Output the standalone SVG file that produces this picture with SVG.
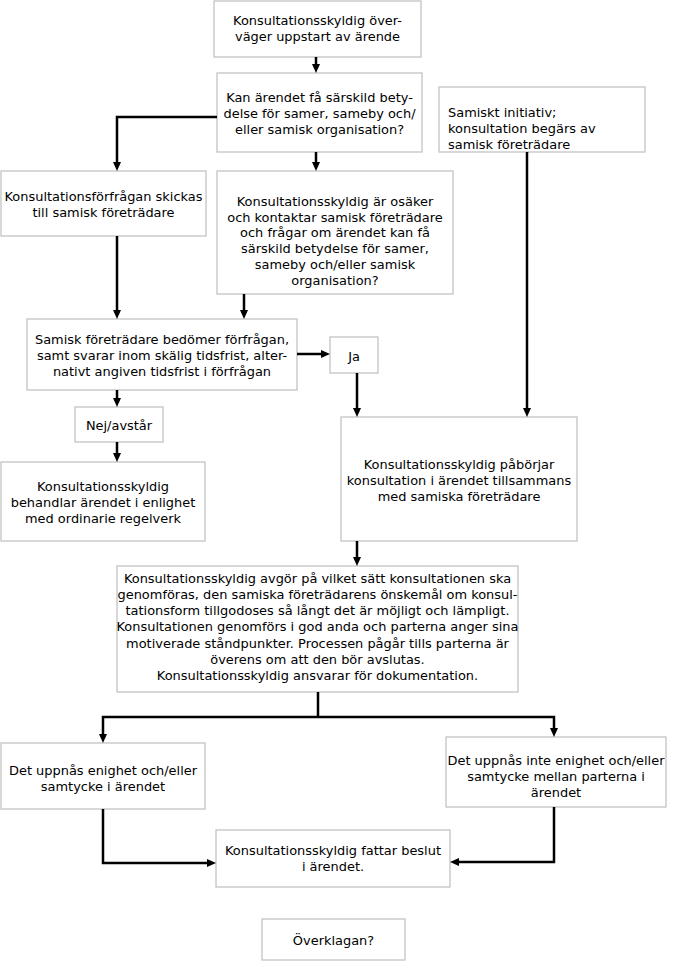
<svg xmlns="http://www.w3.org/2000/svg" width="680" height="961" viewBox="0 0 680 961">
<style>
  .box { fill: #ffffff; stroke: #c4c4c4; stroke-width: 1.3; }
  text { font-family: "DejaVu Sans", Verdana, sans-serif; font-size: 12.95px; fill: #000000; }
  .c { text-anchor: middle; }
  .conn { fill: none; stroke: #000000; stroke-width: 2.5; stroke-linejoin: miter; }
</style>
<defs>
  <marker id="arr" viewBox="0 0 9 8" refX="4" refY="4" markerWidth="9" markerHeight="8" markerUnits="userSpaceOnUse" orient="auto">
    <path d="M0,0 L9,4 L0,8 z" fill="#000000"/>
  </marker>
</defs>
<rect width="680" height="961" fill="#ffffff"/>

<g id="n1">
  <rect class="box" x="214" y="1" width="207" height="56"/>
  <text class="c" x="317.5" y="25">Konsultationsskyldig över-</text>
  <text class="c" x="317.5" y="41">väger uppstart av ärende</text>
</g>
<g id="n2">
  <rect class="box" x="217" y="73" width="205" height="79"/>
  <text class="c" x="319.5" y="102">Kan ärendet få särskild bety-</text>
  <text class="c" x="319.5" y="118">delse för samer, sameby och/</text>
  <text class="c" x="319.5" y="134">eller samisk organisation?</text>
</g>
<g id="n3">
  <rect class="box" x="439" y="87" width="206" height="65"/>
  <text x="448" y="117">Samiskt initiativ;</text>
  <text x="448" y="133">konsultation begärs av</text>
  <text x="448" y="149">samisk företrädare</text>
</g>
<g id="n4">
  <rect class="box" x="1" y="171" width="205" height="65"/>
  <text class="c" x="103.5" y="200.5">Konsultationsförfrågan skickas</text>
  <text class="c" x="103.5" y="216.5">till samisk företrädare</text>
</g>
<g id="n5">
  <rect class="box" x="217" y="171" width="236" height="123"/>
  <text class="c" x="335" y="206">Konsultationsskyldig är osäker</text>
  <text class="c" x="335" y="221.7">och kontaktar samisk företrädare</text>
  <text class="c" x="335" y="237.4">och frågar om ärendet kan få</text>
  <text class="c" x="335" y="253.1">särskild betydelse för samer,</text>
  <text class="c" x="335" y="268.8">sameby och/eller samisk</text>
  <text class="c" x="335" y="284.5">organisation?</text>
</g>
<g id="n6">
  <rect class="box" x="27" y="319" width="270" height="71"/>
  <text class="c" x="162" y="343.5">Samisk företrädare bedömer förfrågan,</text>
  <text class="c" x="162" y="359.5">samt svarar inom skälig tidsfrist, alter-</text>
  <text class="c" x="162" y="375.5">nativt angiven tidsfrist i förfrågan</text>
</g>
<g id="n7">
  <rect class="box" x="330" y="337" width="48" height="36"/>
  <text class="c" x="354" y="360.5">Ja</text>
</g>
<g id="n8">
  <rect class="box" x="75" y="407" width="88" height="35"/>
  <text class="c" x="119" y="429.5">Nej/avstår</text>
</g>
<g id="n9">
  <rect class="box" x="1" y="462" width="204" height="79"/>
  <text class="c" x="103" y="490.5">Konsultationsskyldig</text>
  <text class="c" x="103" y="506.5">behandlar ärendet i enlighet</text>
  <text class="c" x="103" y="522.5">med ordinarie regelverk</text>
</g>
<g id="n10">
  <rect class="box" x="341" y="417" width="236" height="124"/>
  <text class="c" x="459" y="468.5">Konsultationsskyldig påbörjar</text>
  <text class="c" x="459" y="484.5">konsultation i ärendet tillsammans</text>
  <text class="c" x="459" y="500.5">med samiska företrädare</text>
</g>
<g id="n11">
  <rect class="box" x="117" y="566" width="401" height="126"/>
  <text class="c" x="317.5" y="582.5">Konsultationsskyldig avgör på vilket sätt konsultationen ska</text>
  <text class="c" x="317.5" y="598.8">genomföras, den samiska företrädarens önskemål om konsul-</text>
  <text class="c" x="317.5" y="615.1">tationsform tillgodoses så långt det är möjligt och lämpligt.</text>
  <text class="c" x="317.5" y="631.4">Konsultationen genomförs i god anda och parterna anger sina</text>
  <text class="c" x="317.5" y="647.7">motiverade ståndpunkter. Processen pågår tills parterna är</text>
  <text class="c" x="317.5" y="664">överens om att den bör avslutas.</text>
  <text class="c" x="317.5" y="680.3">Konsultationsskyldig ansvarar för dokumentation.</text>
</g>
<g id="n12">
  <rect class="box" x="1" y="743" width="204" height="66"/>
  <text class="c" x="103" y="774.5">Det uppnås enighet och/eller</text>
  <text class="c" x="103" y="790.5">samtycke i ärendet</text>
</g>
<g id="n13">
  <rect class="box" x="446" y="737" width="220" height="70"/>
  <text class="c" x="556" y="764.5">Det uppnås inte enighet och/eller</text>
  <text class="c" x="556" y="780.5">samtycke mellan parterna i</text>
  <text class="c" x="556" y="796.5">ärendet</text>
</g>
<g id="n14">
  <rect class="box" x="216" y="830" width="234" height="57"/>
  <text class="c" x="333" y="855">Konsultationsskyldig fattar beslut</text>
  <text class="c" x="333" y="871">i ärendet.</text>
</g>
<g id="n15">
  <rect class="box" x="262" y="919" width="143" height="41"/>
  <text class="c" x="333.5" y="944.5">Överklagan?</text>
</g>

<g id="connectors">
  <path class="conn" d="M316,57 V68" marker-end="url(#arr)"/>
  <path class="conn" d="M217,117 H117 V166" marker-end="url(#arr)"/>
  <path class="conn" d="M316,152 V166" marker-end="url(#arr)"/>
  <path class="conn" d="M527,152 V412" marker-end="url(#arr)"/>
  <path class="conn" d="M117,236 V314" marker-end="url(#arr)"/>
  <path class="conn" d="M244,294 V314" marker-end="url(#arr)"/>
  <path class="conn" d="M297,354 H325" marker-end="url(#arr)"/>
  <path class="conn" d="M357,373 V412" marker-end="url(#arr)"/>
  <path class="conn" d="M117,390 V402" marker-end="url(#arr)"/>
  <path class="conn" d="M117,442 V457" marker-end="url(#arr)"/>
  <path class="conn" d="M357,541 V561" marker-end="url(#arr)"/>
  <path class="conn" d="M318,692 V717"/>
  <path class="conn" d="M318,717 H103 V738" marker-end="url(#arr)"/>
  <path class="conn" d="M318,717 H554 V732" marker-end="url(#arr)"/>
  <path class="conn" d="M103,809 V863 H211" marker-end="url(#arr)"/>
  <path class="conn" d="M554,807 V862 H455" marker-end="url(#arr)"/>
</g>
</svg>
